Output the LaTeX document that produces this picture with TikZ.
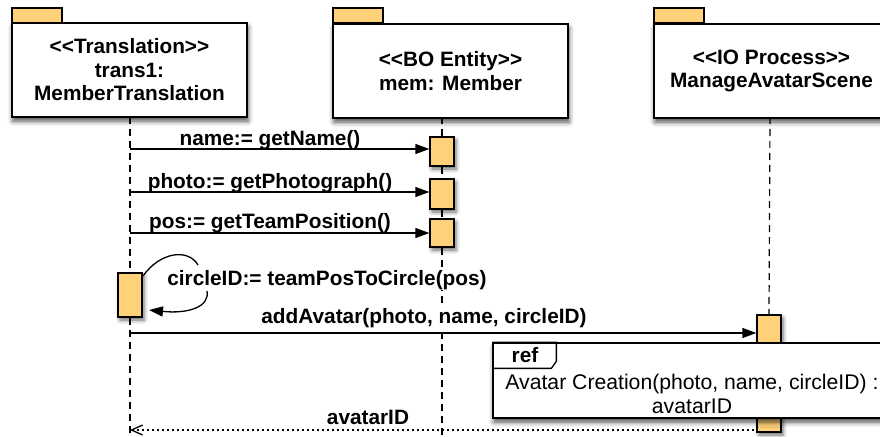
\documentclass[tikz,border=0pt]{standalone}
\usepackage{fontspec}
\setmainfont{Liberation Sans}
\usetikzlibrary{arrows.meta,shadows.blur,calc}
\definecolor{actfill}{RGB}{255,210,122}
\newcommand\gll{<\kern0pt<}
\newcommand\ggr{>\kern0pt>}
\begin{document}
\begin{tikzpicture}[x=1pt,y=-1pt,
  head/.style={draw, line width=1.3pt, fill=white, minimum width=235pt, minimum height=94pt,
    align=center, inner sep=0pt, font=\bfseries\fontsize{20.8}{23.5}\selectfont,
    blur shadow={shadow xshift=1pt, shadow yshift=-4pt, shadow blur radius=5pt, shadow opacity=70}},
  tabbox/.style={draw, line width=1.3pt, fill=actfill, minimum width=50pt, minimum height=15pt, inner sep=0pt},
  act/.style={draw, line width=1.3pt, fill=actfill, minimum width=24pt, inner sep=0pt,
    blur shadow={shadow xshift=2pt, shadow yshift=-3pt, shadow blur radius=4pt, shadow opacity=60}},
  lifeline/.style={line width=1.2pt, dash pattern=on 7pt off 5pt},
  msg/.style={line width=1.3pt, -{Triangle[length=14pt,width=10pt]}},
  ret/.style={line width=1.3pt, dash pattern=on 2pt off 3pt, {Straight Barb[length=11pt,width=10pt]}-},
  lbl/.style={font=\bfseries\fontsize{20.8}{23.5}\selectfont, inner sep=0pt},
  masklbl/.style={lbl, fill=white, inner xsep=1pt},
  reftxt/.style={font=\fontsize{21.2}{24}\selectfont, align=center, inner sep=0pt},
]
\useasboundingbox (0,0) rectangle (880,436);

% heads
\node[tabbox] (t1) at (37,15.5) {};
\node[tabbox] (t2) at (358,15.5) {};
\node[tabbox] (t3) at (679,15.5) {};
\node[head] (h1) at (129.5,70) {\gll Translation\ggr\\trans1:\\MemberTranslation};
\node[head] (h2) at (450.5,71) {\gll BO Entity\ggr\\mem: Member};
\node[head] (h3) at (771.5,71) {\gll IO Process\ggr\\ManageAvatarScene};

% lifeline coordinates
\coordinate (l1top) at (130,117);
\coordinate (l1bot) at (130,436);
\coordinate (l2top) at (442,117);
\coordinate (l2bot) at (442,436);
\coordinate (l3top) at (770,117);

% activation bars
\node[act, minimum height=29pt] (a1) at (442,151.5) {};
\node[act, minimum height=30pt] (a2) at (442,194) {};
\node[act, minimum height=28pt] (a3) at (442,233) {};
\node[act, minimum height=44pt] (a4) at (130,295) {};
\node[act, minimum height=117pt] (a5) at (769,373.5) {};

% lifelines
\draw[lifeline] (l1top) -- (a4.north);
\draw[lifeline] (a4.south) -- (l1bot);
\draw[lifeline] (l2top) -- (a1.north);
\draw[lifeline] (a1.south) -- (a2.north);
\draw[lifeline] (a2.south) -- (a3.north);
\draw[lifeline] (a3.south) -- (l2bot);
\draw[lifeline] (l3top) -- (a5.north);

% labels
\node[lbl] (n1) at (270,140) {name:= getName()};
\node[lbl] (n2) at (270,183) {photo:= getPhotograph()};
\node[lbl] (n3) at (270,223) {pos:= getTeamPosition()};
\node[masklbl] (n4) at (424,318) {addAvatar(photo, name, circleID)};
\node[masklbl] (n5) at (327,280) {circleID:= teamPosToCircle(pos)};
\node[lbl] (n6) at (368,417) {avatarID};

% synchronous messages
\coordinate (m1) at (130,149);
\coordinate (m2) at (130,192);
\coordinate (m3) at (130,233);
\coordinate (m4) at (130,333);
\draw[msg] (m1) -- (m1 -| a1.west);
\draw[msg] (m2) -- (m2 -| a2.west);
\draw[msg] (m3) -- (m3 -| a3.west);
\draw[msg] (m4) -- (m4 -| a5.west);

% self call
\coordinate (s1) at (143,276);
\coordinate (s2) at (198,265);
\coordinate (s3) at (207,291);
\coordinate (s4) at (149,310);
\draw[line width=1.3pt] (s1) .. controls (160,252) and (188,248) .. (s2);
\draw[line width=1.3pt, -{Triangle[length=14pt,width=10pt]}] (s3) .. controls (210,307) and (188,314) .. (s4);

% ref fragment
\node[draw, line width=1.3pt, fill=white, minimum width=398pt, minimum height=75pt, inner sep=0pt,
  blur shadow={shadow xshift=1pt, shadow yshift=-4pt, shadow blur radius=5pt, shadow opacity=70}]
  (ref) at (692,380.5) {};
\draw[line width=1.3pt] (ref.north west) -- ++(64,0) -- ++(0,19) -- ++(-5,7) -- ($(ref.north west)+(0,26)$);
\node[lbl] (reflbl) at (525,355) {ref};
\node[reftxt] (reft) at (692,394) {Avatar Creation(photo, name, circleID) :\\avatarID};

% return
\coordinate (r1) at (130,430);
\draw[ret] (r1) -- (r1 -| a5.west);
\end{tikzpicture}
\end{document}
